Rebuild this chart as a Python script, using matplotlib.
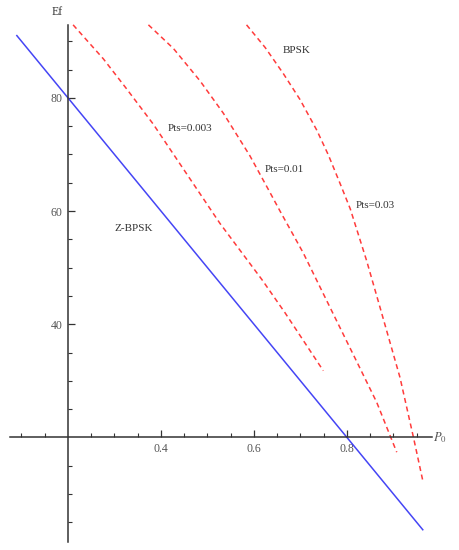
import matplotlib
matplotlib.use("Agg")
import matplotlib.pyplot as plt

plt.rcParams["font.family"] = ["Liberation Serif", "DejaVu Serif"]
plt.rcParams["mathtext.fontset"] = "stix"

# Z-BPSK straight line (P0, Ef)
zbpsk_p0 = [0.090, 0.963]
zbpsk_ef = [91.0, 3.7]

# BPSK curves for three Pts values
pts003_p0 = [0.211, 0.276, 0.326, 0.383, 0.455, 0.527, 0.617, 0.667, 0.749]
pts003_ef = [92.9, 86.9, 81.6, 75.4, 66.6, 57.8, 47.9, 42.0, 31.8]

pts01_p0 = [0.373, 0.427, 0.484, 0.534, 0.591, 0.631, 0.656, 0.706, 0.767, 0.821,
            0.864, 0.907]
pts01_ef = [92.9, 88.7, 83.0, 77.3, 69.8, 63.8, 60.0, 52.6, 42.4, 33.4,
            26.2, 17.4]

pts03_p0 = [0.584, 0.624, 0.663, 0.699, 0.735, 0.760, 0.785, 0.807, 0.842, 0.871,
            0.914, 0.943, 0.964]
pts03_ef = [92.9, 88.9, 84.3, 79.7, 74.3, 69.9, 64.9, 60.4, 51.3, 43.0,
            30.6, 20.0, 12.0]

x_major = [0.4, 0.6, 0.8]
x_minor = [0.1, 0.15, 0.25, 0.3, 0.35, 0.45, 0.5, 0.55, 0.65, 0.7, 0.75, 0.85, 0.9, 0.95]
y_major = [40, 60, 80]
y_minor = [5, 10, 15, 25, 30, 35, 45, 50, 55, 65, 70, 75, 85, 90]

blue = "#4545f5"
red = "#ff3b3b"
axis_col = "#333333"
text_col = "#333333"

fig = plt.figure(figsize=(4.59, 5.5), dpi=100)
ax = fig.add_axes([0, 0, 1, 1])
ax.set_xlim(0.0538, 1.0409)
ax.set_ylim(0.12, 97.29)

ax.plot(zbpsk_p0, zbpsk_ef, color=blue, lw=1.1)
for p0, ef in [(pts003_p0, pts003_ef), (pts01_p0, pts01_ef), (pts03_p0, pts03_ef)]:
    ax.plot(p0, ef, color=red, lw=1.1, linestyle=(0, (3.3, 2.4)))

# Mathematica-style axes crossing at (0.2, 20)
for side in ["top", "right"]:
    ax.spines[side].set_visible(False)
ax.spines["left"].set_position(("data", 0.2))
ax.spines["bottom"].set_position(("data", 20))
ax.spines["left"].set_bounds(1.5, 92.9)
ax.spines["bottom"].set_bounds(0.075, 0.983)
for side in ["left", "bottom"]:
    ax.spines[side].set_color(axis_col)
    ax.spines[side].set_linewidth(1.1)

ax.set_xticks(x_major)
ax.set_xticks(x_minor, minor=True)
ax.set_xticklabels([f"{v:.1f}" for v in x_major])
ax.set_yticks(y_major)
ax.set_yticks(y_minor, minor=True)
ax.set_yticklabels([str(v) for v in y_major])
ax.tick_params(which="major", direction="in", length=5, width=0.9, color=axis_col,
               labelsize=8.5, labelcolor="#555555", pad=4)
ax.tick_params(which="minor", direction="in", length=3, width=0.8, color=axis_col)

ax.text(0.176, 95.2, "Ef", fontsize=8.5, color=text_col, ha="center", va="center")
ax.text(1.00, 20, "$P_0$", fontsize=9, color="#555555", ha="center", va="center")

labels = [
    (0.692, 88.4, "BPSK"),
    (0.462, 74.6, "Pts=0.003"),
    (0.665, 67.4, "Pts=0.01"),
    (0.860, 61.0, "Pts=0.03"),
    (0.342, 56.9, "Z-BPSK"),
]
for x, y, s in labels:
    ax.text(x, y, s, fontsize=8, color=text_col, ha="center", va="center")

fig.savefig("out.png", dpi=100)
